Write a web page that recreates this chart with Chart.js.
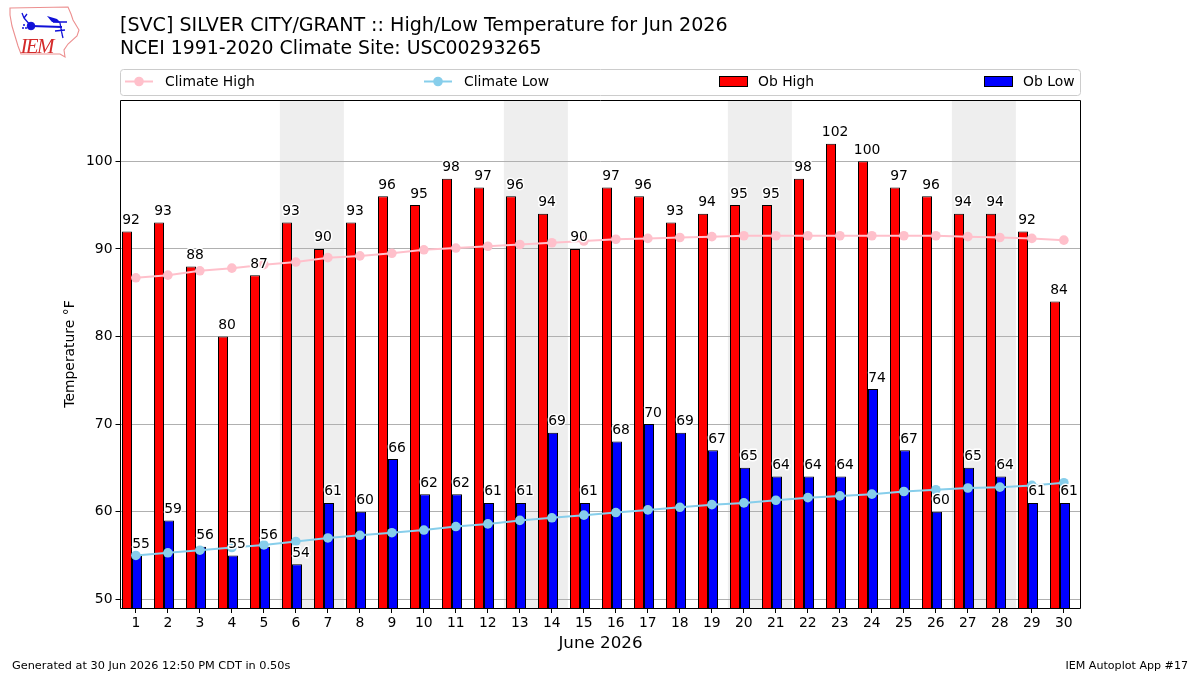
<!DOCTYPE html>
<html>
<head>
<meta charset="utf-8">
<title>High/Low Temperature</title>
<script src="https://cdn.jsdelivr.net/npm/chart.js@4"></script>
<style>
  html, body { margin: 0; padding: 0; background: #fff; }
  #wrap { position: relative; width: 1200px; height: 675px; overflow: hidden; }
  #logo { position: absolute; left: 0; top: 0; }
</style>
</head>
<body>
<div id="wrap">
  <canvas id="chart" width="1200" height="675"></canvas>
  <svg id="logo" width="90" height="64" viewBox="0 0 90 64">
    <path d="M10 8 L68 7 L71 14 L73 20 L79 30 L77 36 L68 44 L64 50 L65 57 L60 54 L21 54 L18 46 L12 26 L10 15 Z"
          fill="#fff" stroke="#ec8f8f" stroke-width="1.1"/>
    <g stroke="#1010d8" fill="#1010d8">
      <path d="M31 26 L62 27" stroke-width="1.8"/>
      <circle cx="31" cy="26" r="3.8"/>
      <path d="M31 26 L24 18 M24 18 L22 13 M24 18 L27 14" stroke-width="1.3" fill="none"/>
      <path d="M47 16 L57 19 L61 23 L52 22 Z" stroke="none"/>
      <path d="M53 22 L67 22 M60 23 L62 34 M55 31 L65 30 M62 34 L63 38" stroke-width="1.3" fill="none"/>
      <circle cx="24" cy="25" r="1" stroke="none"/>
      <circle cx="23" cy="28" r="1" stroke="none"/>
      <circle cx="26" cy="28" r="1" stroke="none"/>
    </g>
    <text x="20.5" y="52.5" font-family="Liberation Serif" font-style="italic" font-size="21" fill="#d42a2a" textLength="34">IEM</text>
  </svg>
</div>
<script>
const days = [1,2,3,4,5,6,7,8,9,10,11,12,13,14,15,16,17,18,19,20,21,22,23,24,25,26,27,28,29,30];
const obHigh = [92,93,88,80,87,93,90,93,96,95,98,97,96,94,90,97,96,93,94,95,95,98,102,100,97,96,94,94,92,84];
const obLow = [55,59,56,55,56,54,61,60,66,62,62,61,61,69,61,68,70,69,67,65,64,64,64,74,67,60,65,64,61,61];
const climateHigh = [86.7,87.0,87.5,87.8,88.2,88.5,89.0,89.2,89.5,89.9,90.1,90.3,90.5,90.7,90.9,91.1,91.2,91.3,91.4,91.5,91.5,91.5,91.5,91.5,91.5,91.5,91.4,91.3,91.2,91.0];
const climateLow = [55.0,55.3,55.6,55.9,56.2,56.6,57.0,57.3,57.6,57.9,58.3,58.6,59.0,59.3,59.6,59.9,60.2,60.5,60.8,61.0,61.3,61.6,61.8,62.0,62.3,62.5,62.7,62.8,63.0,63.3];
const yTicks = [50,60,70,80,90,100];
const weekends = [[5.5,7.5],[12.5,14.5],[19.5,21.5],[26.5,28.5]];

const titleLines = ['[SVC] SILVER CITY/GRANT :: High/Low Temperature for Jun 2026', 'NCEI 1991-2020 Climate Site: USC00293265'];
const footerLeft = 'Generated at 30 Jun 2026 12:50 PM CDT in 0.50s';
const footerRight = 'IEM Autoplot App #17';

const FONT = '"DejaVu Sans"';
// 30 days over 960px keeps every day on a whole 32px step, so bar edges stay crisp
const xMin = 0.52, xMax = 30.52;
// with two x axes the grouped bars only fill half their slot, so the slot is
// widened and the bar axis nudged to land the pair just left of the day tick
const barSlot = 1.25;
const barsMin = 0.328125, barsMax = 30.328125;

const toPoints = (vals) => vals.map((v, i) => ({ x: days[i], y: v }));
const dayTicks = (s) => { s.ticks = days.map((d) => ({ value: d })); };

// grey weekend bands, under the grid
const bandsPlugin = {
  id: 'bands',
  beforeDraw(chart) {
    const { ctx, chartArea: a, scales } = chart;
    ctx.save();
    ctx.fillStyle = '#eeeeee';
    weekends.forEach(([from, to]) => {
      const l = scales.x.getPixelForValue(from);
      const r = scales.x.getPixelForValue(to);
      ctx.fillRect(l, a.top, r - l, a.bottom - a.top);
    });
    ctx.restore();
  },
};

// value labels with a white halo, then the axes frame
const labelsPlugin = {
  id: 'labels',
  afterDatasetsDraw(chart) {
    const { ctx, chartArea: a, scales } = chart;
    ctx.save();
    ctx.font = '13.9px ' + FONT;
    ctx.textAlign = 'center';
    ctx.textBaseline = 'alphabetic';
    ctx.lineJoin = 'round';
    const put = (vals, dx) => vals.forEach((v, i) => {
      const x = scales.x.getPixelForValue(days[i]) + dx;
      const y = scales.y.getPixelForValue(v) - 7.5;
      ctx.strokeStyle = '#fff';
      ctx.lineWidth = 3;
      ctx.strokeText(String(v), x, y);
      ctx.fillStyle = '#000';
      ctx.fillText(String(v), x, y);
    });
    put(obHigh, -4.8);
    put(obLow, 5.2);
    ctx.strokeStyle = '#000';
    ctx.lineWidth = 1;
    ctx.strokeRect(a.left, a.top + 0.5, a.right - a.left, a.bottom - a.top);
    ctx.restore();
  },
};

// title, footer and the four-column legend box
const textPlugin = {
  id: 'furniture',
  afterDraw(chart) {
    const { ctx } = chart;
    ctx.save();
    ctx.fillStyle = '#000';
    ctx.textBaseline = 'alphabetic';
    ctx.textAlign = 'left';
    ctx.font = '19.08px ' + FONT;
    ctx.fillText(titleLines[0], 120, 31);
    ctx.font = '18.87px ' + FONT;
    ctx.fillText(titleLines[1], 120, 54);

    ctx.font = '11.3px ' + FONT;
    ctx.fillText(footerLeft, 12, 669);
    ctx.font = '11.1px ' + FONT;
    ctx.textAlign = 'right';
    ctx.fillText(footerRight, 1188, 669);

    ctx.beginPath();
    ctx.roundRect(120.5, 69.5, 960, 26, 3);
    ctx.fillStyle = '#fff';
    ctx.fill();
    ctx.strokeStyle = '#cccccc';
    ctx.lineWidth = 1;
    ctx.stroke();

    const midY = 81.5;
    ctx.textAlign = 'left';
    ctx.textBaseline = 'middle';
    ctx.font = '13.9px ' + FONT;
    const entries = [
      { set: chart.data.datasets[2], left: 125 },
      { set: chart.data.datasets[3], left: 424 },
      { set: chart.data.datasets[0], left: 719 },
      { set: chart.data.datasets[1], left: 984 },
    ];
    entries.forEach(({ set, left }) => {
      if (set.type === 'line') {
        ctx.strokeStyle = set.borderColor;
        ctx.lineWidth = 2;
        ctx.beginPath();
        ctx.moveTo(left, midY);
        ctx.lineTo(left + 28, midY);
        ctx.stroke();
        ctx.fillStyle = set.borderColor;
        ctx.beginPath();
        ctx.arc(left + 14, midY, 4.8, 0, Math.PI * 2);
        ctx.fill();
      } else {
        ctx.fillStyle = set.backgroundColor;
        ctx.fillRect(left + 0.5, 76.5, 28, 10);
        ctx.strokeStyle = '#000';
        ctx.lineWidth = 1;
        ctx.strokeRect(left + 0.5, 76.5, 28, 10);
      }
      ctx.fillStyle = '#000';
      ctx.fillText(set.label, left + (set.type === 'line' ? 40 : 39), midY + 1);
    });
    ctx.restore();
  },
};

new Chart(document.getElementById('chart'), {
  type: 'bar',
  data: {
    datasets: [
      { label: 'Ob High', data: toPoints(obHigh), xAxisID: 'xBars', backgroundColor: '#ff0000', borderColor: '#000', borderWidth: 1, order: 3 },
      { label: 'Ob Low', data: toPoints(obLow), xAxisID: 'xBars', backgroundColor: '#0000ff', borderColor: '#000', borderWidth: 1, order: 3 },
      { type: 'line', label: 'Climate High', data: toPoints(climateHigh), xAxisID: 'x', borderColor: '#ffc0cb', backgroundColor: '#ffc0cb', borderWidth: 2, pointRadius: 4.8, pointBorderWidth: 0, tension: 0, order: 1 },
      { type: 'line', label: 'Climate Low', data: toPoints(climateLow), xAxisID: 'x', borderColor: '#87ceeb', backgroundColor: '#87ceeb', borderWidth: 2, pointRadius: 4.8, pointBorderWidth: 0, tension: 0, order: 1 },
    ],
  },
  options: {
    responsive: false,
    animation: false,
    devicePixelRatio: 1,
    layout: { padding: { left: 0, right: 119.5, top: 100, bottom: 0 } },
    categoryPercentage: barSlot,
    barPercentage: 1,
    plugins: { legend: { display: false }, title: { display: false }, tooltip: { enabled: false } },
    scales: {
      x: {
        type: 'linear',
        min: xMin,
        max: xMax,
        offset: false,
        afterBuildTicks: dayTicks,
        afterFit: (s) => { s.height = 67; },
        ticks: { color: '#000', font: { family: FONT, size: 13.9 }, padding: 2, autoSkip: false, maxRotation: 0, callback: (v) => String(v) },
        grid: { display: true, drawOnChartArea: false, drawTicks: true, tickLength: 5, tickColor: '#000', offset: false },
        border: { display: false },
        title: { display: true, text: 'June 2026', color: '#000', font: { family: FONT, size: 16.7 }, padding: { top: 2, bottom: 21 } },
      },
      xBars: {
        type: 'linear',
        display: false,
        min: barsMin,
        max: barsMax,
        offset: false,
        afterBuildTicks: dayTicks,
        grid: { offset: false },
      },
      y: {
        min: 49,
        max: 107,
        afterBuildTicks: (s) => { s.ticks = yTicks.map((v) => ({ value: v })); },
        afterFit: (s) => { s.width = 120.5; },
        ticks: { color: '#000', font: { family: FONT, size: 13.9 }, padding: 3 },
        grid: { color: '#b0b0b0', lineWidth: 1, tickLength: 5, tickColor: '#000' },
        border: { display: false },
        title: { display: true, text: 'Temperature °F', color: '#000', font: { family: FONT, size: 13.9 }, padding: { top: 62, bottom: 4 } },
      },
    },
  },
  plugins: [bandsPlugin, labelsPlugin, textPlugin],
});
</script>
</body>
</html>
